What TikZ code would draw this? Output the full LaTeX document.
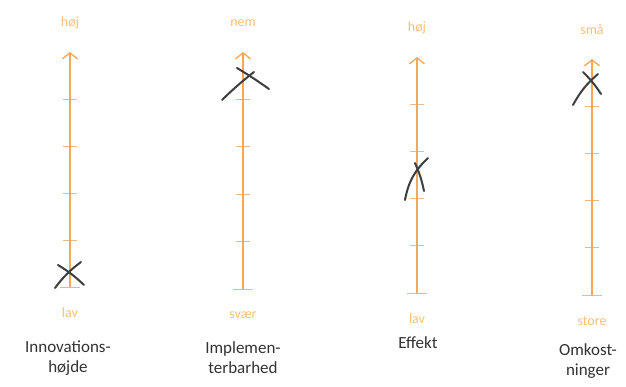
\documentclass[tikz,border=0pt]{standalone}
\usepackage{fontspec}
\setmainfont{Carlito}
\usetikzlibrary{arrows.meta,calc}

\definecolor{axisorange}{RGB}{246,168,88}
\definecolor{tickorange}{RGB}{232,186,134}
\definecolor{labelorange}{RGB}{244,194,122}
\definecolor{crossgray}{RGB}{62,62,62}

\tikzset{
  axisline/.style={draw=axisorange, line width=1.5pt,
    -{Straight Barb[length=6pt,width=15pt,line width=1.3pt]}},
  tickline/.style={draw=tickorange, line width=1pt},
  endlabel/.style={text=labelorange, font=\fontsize{14}{16}\selectfont, inner sep=1pt},
  caption/.style={text=black!80, font=\fontsize{17}{20}\selectfont, align=center, inner sep=0pt},
  crossmark/.style={draw=crossgray, line width=2pt, line cap=round},
}

\begin{document}
\begin{tikzpicture}[x=1pt,y=-1pt]
\useasboundingbox[fill=white] (0,0) rectangle (626,386);

% the four scales: x, bottom, top, top text, bottom text, caption x, caption y, caption
\foreach \i/\x/\yb/\yt/\toptext/\bottext/\cx/\cy/\captext in {
  1/70/287/52/høj/lav/68/358/{Innovations-\\højde},
  2/243/289/52/nem/svær/243/358/{Implemen-\\terbarhed},
  3/417/293/57/høj/lav/418/343/{Effekt},
  4/592/295/59/små/store/588/361/{Omkost-\\ninger}}
{
  \coordinate (lo\i) at (\x,\yb);
  \coordinate (hi\i) at (\x,\yt);
  % ticks
  \draw[tickline] ([xshift=-10pt]lo\i) -- ([xshift=10pt]lo\i);
  \foreach \k in {1,...,4}
    \draw[tickline] ($(lo\i)!\k/5!(hi\i)$) ++(-7,0) -- ++(14,0);
  \draw[axisline] (lo\i) -- (hi\i);
  \node[endlabel] (top\i) at (\x,{\yt-29}) {\toptext};
  \node[endlabel] (bot\i) at (\x,{\yb+26}) {\bottext};
  \node[caption] (cap\i) at (\cx,\cy) {\captext};
}

% hand drawn crosses
\draw[crossmark] (55,288) to[bend left=8] (81,262);
\draw[crossmark] (58,265) to[bend left=6] (84,285);

\draw[crossmark] (222,100) to[bend left=3] (254,72);
\draw[crossmark] (237,68) to[bend left=2] (269,89);

\draw[crossmark] (405,200) to[bend left=18] (428,158);
\draw[crossmark] (415,163) to[bend left=6] (424,191);

\draw[crossmark] (573,105) to[bend left=10] (598,74);
\draw[crossmark] (583,72) to[bend left=6] (601,94);
\end{tikzpicture}
\end{document}
